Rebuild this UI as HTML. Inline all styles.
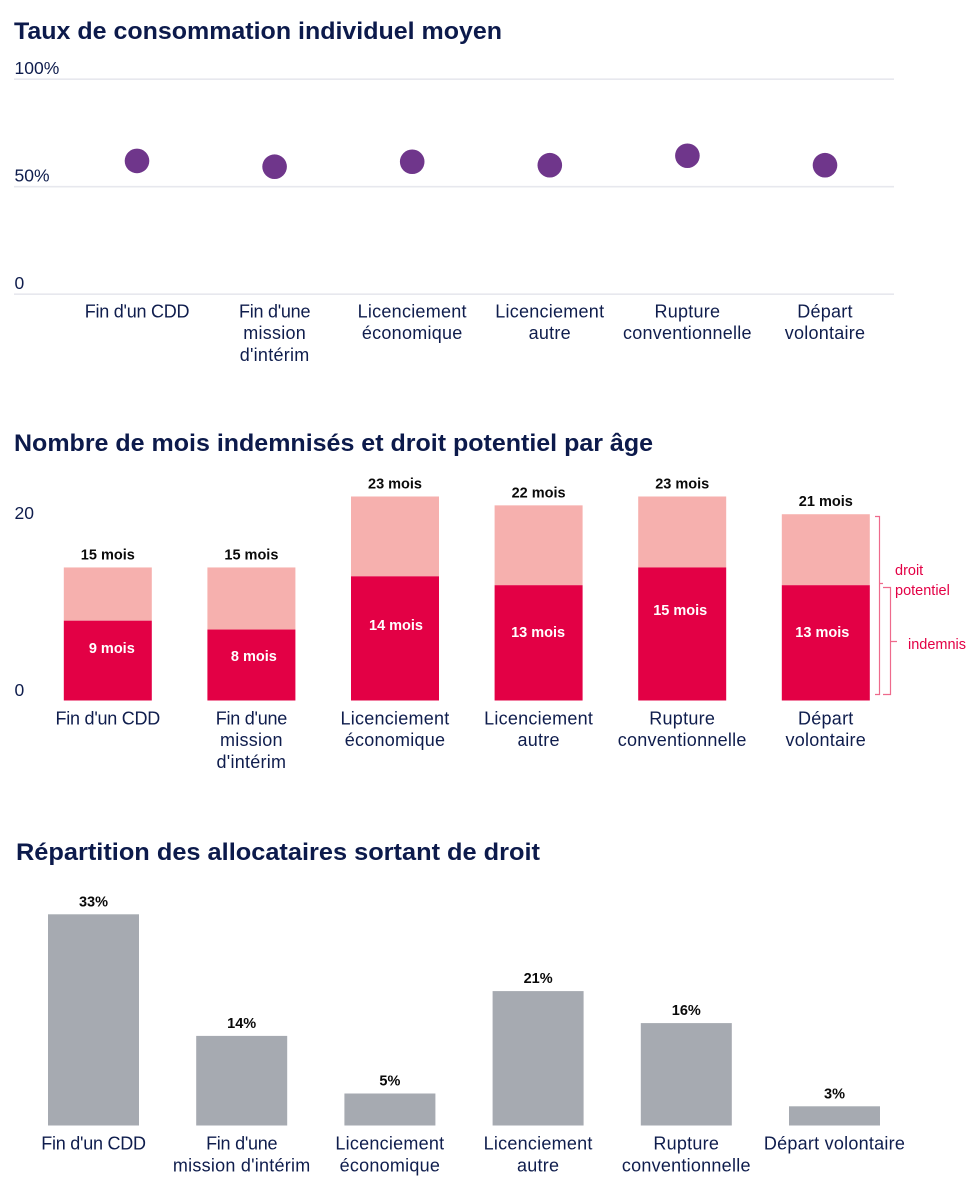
<!DOCTYPE html>
<html lang="fr">
<head>
<meta charset="utf-8">
<title>Allocataires sortant de droit</title>
<style>
html,body{margin:0;padding:0;background:#fff;width:966px;height:1180px;overflow:hidden}
svg{display:block;font-family:"Liberation Sans",sans-serif}
.title{font-size:24.5px;font-weight:700;fill:#0c1a4b}
.tick{font-size:17.5px;fill:#0f1d4d}
.cat{font-size:18px;letter-spacing:.25px;fill:#0f1d4d;text-anchor:middle}
.cat.tight{letter-spacing:-.25px}
.val{font-size:14.5px;font-weight:700;text-anchor:middle;fill:#0a0a0a}
.inner{font-size:14.5px;font-weight:700;text-anchor:middle;fill:#fff}
.note{font-size:14.5px;fill:#e30045}
.grid{stroke:#e7e8ee;stroke-width:1.6}
.bracket{fill:none;stroke:#ee6a8c;stroke-width:1.2}
</style>
</head>
<body>
<svg id="root" xmlns="http://www.w3.org/2000/svg" width="966" height="1180" viewBox="0 0 966 1180">
  <rect width="966" height="1180" fill="#fff"/>
  <text class="title" x="14" y="39" textLength="488" lengthAdjust="spacingAndGlyphs">Taux de consommation individuel moyen</text>
  <text class="title" x="14" y="451" textLength="639" lengthAdjust="spacingAndGlyphs">Nombre de mois indemnisés et droit potentiel par âge</text>
  <text class="title" x="16" y="860" textLength="524" lengthAdjust="spacingAndGlyphs">Répartition des allocataires sortant de droit</text>

  <g id="chart1"></g>
  <g id="chart2"></g>
  <g id="chart3"></g>

  <g>
    <path class="bracket" d="M875 516.5H879.5V694.5H875M879.5 583.5H883"/>
    <path class="bracket" d="M883 587.5H890.5V694.5H883M890.5 641.5H897"/>
    <text class="note" x="895" y="575">droit</text>
    <text class="note" x="895" y="595">potentiel</text>
    <text class="note" x="908" y="649">indemnisé</text>
  </g>
</svg>
<script>
// Chart 1: average individual consumption rate
const rateCategories = [["Fin d'un CDD"],["Fin d'une","mission","d'intérim"],["Licenciement","économique"],["Licenciement","autre"],["Rupture","conventionnelle"],["Départ","volontaire"]];
const rateValues = [62, 59.3, 61.6, 60, 64.4, 60];
const rateTicks = [0, 50, 100];
const rateTickLabels = ["0", "50%", "100%"];

// Chart 2: indemnified months and potential entitlement
const monthCategories = [["Fin d'un CDD"],["Fin d'une","mission","d'intérim"],["Licenciement","économique"],["Licenciement","autre"],["Rupture","conventionnelle"],["Départ","volontaire"]];
const monthsPotential = [15, 15, 23, 22, 23, 21];
const monthsIndemnified = [9, 8, 14, 13, 15, 13];
const monthTicks = [0, 20];
const monthTickLabels = ["0", "20"];

// Chart 3: distribution of recipients
const shareCategories = [["Fin d'un CDD"],["Fin d'une","mission d'intérim"],["Licenciement","économique"],["Licenciement","autre"],["Rupture","conventionnelle"],["Départ volontaire"]];
const shareValues = [33, 14, 5, 21, 16, 3];

const NS = "http://www.w3.org/2000/svg";
function make(parent, tag, attrs, content){
  const el = document.createElementNS(NS, tag);
  for (const k in attrs) el.setAttribute(k, attrs[k]);
  if (content !== undefined) el.textContent = content;
  parent.appendChild(el);
  return el;
}
const catClass = line => line.startsWith("Fin") ? "cat tight" : "cat";

// Axis functions
const x1 = i => 137 + i * 137.6;
const y1 = v => 294.2 - v * 2.15;
const x2 = i => 107.8 + i * 143.6;
const y2 = v => 700.5 - v * 8.87;
const x3 = i => 93.5 + i * 148.2;
const y3 = v => 1125.5 - v * 6.4;

const c1 = document.getElementById("chart1");
const c2 = document.getElementById("chart2");
const c3 = document.getElementById("chart3");

// Chart 1 rendering
rateTicks.forEach((t, i) => {
  const line = make(c1, "line", {class:"grid", x1:14, x2:894, y1:y1(t), y2:y1(t)});
  
  
  const label = make(c1, "text", {class:"tick", x:14.5, y:y1(t) - 5}, rateTickLabels[i]);
  
  
});
rateValues.forEach((v, i) => {
  const dot = make(c1, "circle", {cx:x1(i), cy:y1(v), r:12.3, fill:"#6f368b"});
  
  
  rateCategories[i].forEach((line, j) => {
    const label = make(c1, "text", {class:catClass(line), x:x1(i), y:317.5 + j * 21.7}, line);
    
    
  });
});

// Chart 2 rendering
function drawMonths(){
  // Height of each inner label within its segment, as a share of the segment (styling only)
  const innerLabelHeight = [0.66, 0.63, 0.61, 0.596, 0.68, 0.596];
  monthTicks.forEach((t, i) => {
    const label = make(c2, "text", {class:"tick", x:14.5, y:t === 0 ? 696 : 519}, monthTickLabels[i]);
    
    
  });
  monthsPotential.forEach((total, i) => {
    const indemn = monthsIndemnified[i];
    const top = make(c2, "rect", {x:x2(i) - 44, y:y2(total), width:88, height:y2(indemn) - y2(total), fill:"#f6b0ae"});
    
    
    const bottom = make(c2, "rect", {x:x2(i) - 44, y:y2(indemn), width:88, height:y2(0) - y2(indemn), fill:"#e30045"});
    
    
    const totalLabel = make(c2, "text", {class:"val", x:x2(i), y:y2(total) - 8}, total + " mois");
    
    
    const innerLabel = make(c2, "text", {class:"inner", x:x2(i) + 4 - i * 1.5, y:y2(indemn * innerLabelHeight[i]) + 5}, indemn + " mois");
    
    
    monthCategories[i].forEach((line, j) => {
      const label = make(c2, "text", {class:catClass(line), x:x2(i), y:724.5 + j * 21.7}, line);
      
      
    });
  });
}
drawMonths();

// Chart 3 rendering
shareValues.forEach((v, i) => {
  const bar = make(c3, "rect", {x:x3(i) - 45.5, y:y3(v), width:91, height:y3(0) - y3(v), fill:"#a6aab1"});
  
  
  const value = make(c3, "text", {class:"val", x:x3(i), y:y3(v) - 8}, v + "%");
  
  
  shareCategories[i].forEach((line, j) => {
    const label = make(c3, "text", {class:catClass(line), x:x3(i), y:1149.5 + j * 22}, line);
    
    
  });
});
</script>
</body>
</html>
